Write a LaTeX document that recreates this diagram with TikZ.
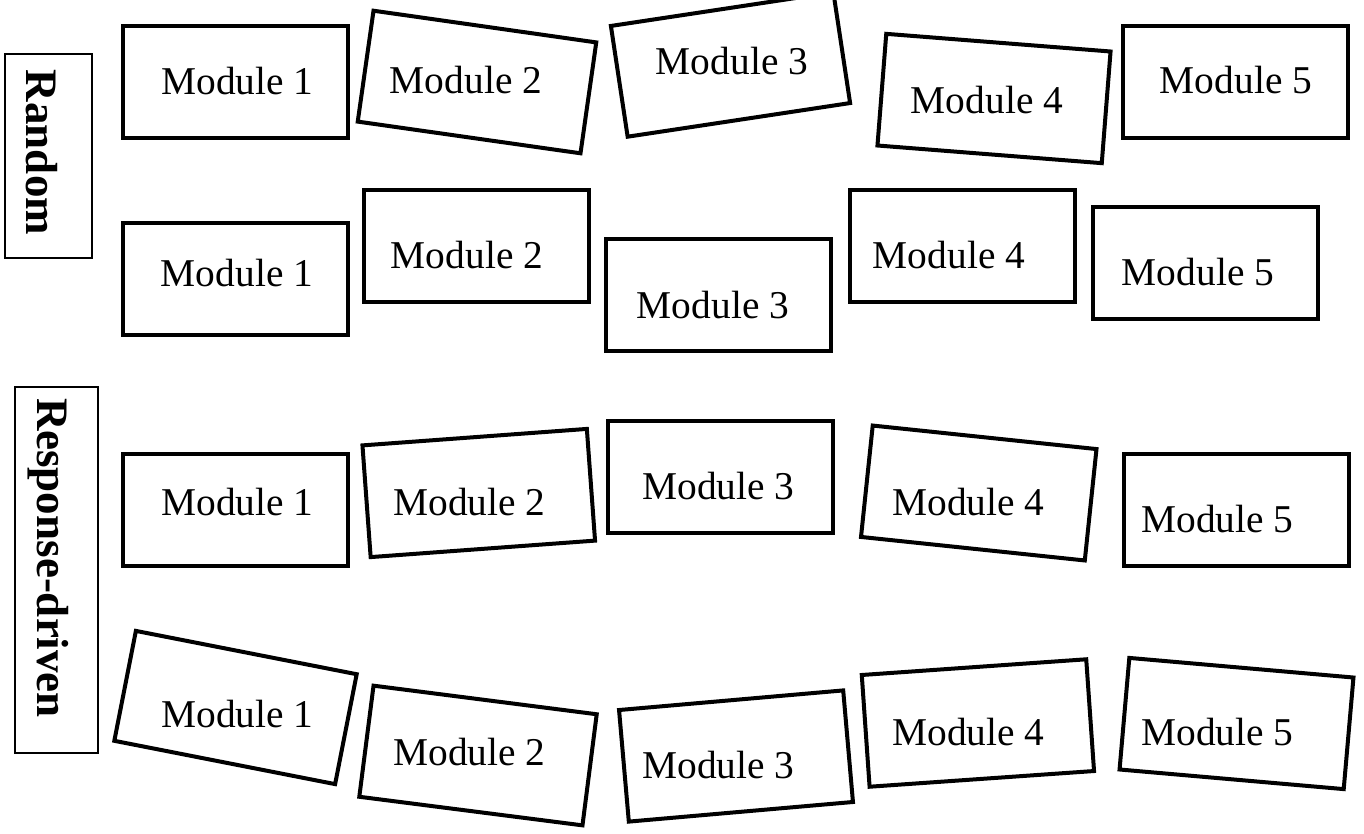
\documentclass[tikz,border=0pt]{standalone}
\usepackage{fontspec}
\setmainfont{Liberation Serif}
\begin{document}
\begin{tikzpicture}[x=1pt,y=-1pt,
  modbox/.style={draw=black, line width=4pt, minimum width=225pt, minimum height=112pt, inner sep=0pt, rotate=#1},
  modbox/.default=0,
  modtext/.style={anchor=base, inner sep=0pt, font=\fontsize{39.4}{40}\selectfont},
  sidebox/.style={draw=black, line width=1.3pt, inner sep=0pt},
  sidetext/.style={rotate=-90, anchor=base, inner sep=0pt, font=\fontsize{45}{46}\selectfont\bfseries}]
\useasboundingbox (0,0) rectangle (1364,833);
% side labels
\node[sidebox, minimum width=87pt, minimum height=204pt] (rbox) at (48.5,156) {};
\node[sidetext] (rlab) at (26,152.5) {Random};
\node[sidebox, minimum width=83pt, minimum height=366pt] (dbox) at (56.5,570) {};
\node[sidetext] (dlab) at (37,558) {Response-driven};
% row 1
\node[modbox] (a1) at (235.5,81.5) {};
\node[modbox=-8.1] (a2) at (477,82) {};
\node[modbox=8.6] (a3) at (730.5,64.5) {};
\node[modbox=-4.5] (a4) at (994,98.5) {};
\node[modbox] (a5) at (1235.5,81.5) {};
\node[modtext] (a1t) at (237.5,94) {Module 1};
\node[modtext] (a2t) at (466,93) {Module 2};
\node[modtext] (a3t) at (732,74) {Module 3};
\node[modtext] (a4t) at (987,113) {Module 4};
\node[modtext] (a5t) at (1236,93) {Module 5};
% row 2
\node[modbox] (b1) at (235.5,279) {};
\node[modbox] (b2) at (476,246) {};
\node[modbox] (b3) at (718,295) {};
\node[modbox] (b4) at (962.5,246) {};
\node[modbox] (b5) at (1205.5,263) {};
\node[modtext] (b1t) at (237,286) {Module 1};
\node[modtext] (b2t) at (467,268) {Module 2};
\node[modtext] (b3t) at (713,318) {Module 3};
\node[modtext] (b4t) at (949,268) {Module 4};
\node[modtext] (b5t) at (1198,285) {Module 5};
% row 3
\node[modbox] (c1) at (235.5,509.5) {};
\node[modbox=4.2] (c2) at (478.75,493) {};
\node[modbox] (c3) at (720.5,477) {};
\node[modbox=-6] (c4) at (978.75,493) {};
\node[modbox] (c5) at (1236,509.5) {};
\node[modtext] (c1t) at (237.5,515) {Module 1};
\node[modtext] (c2t) at (469.5,515) {Module 2};
\node[modtext] (c3t) at (718.5,499) {Module 3};
\node[modtext] (c4t) at (968.5,515) {Module 4};
\node[modtext] (c5t) at (1217.5,532) {Module 5};
% row 4
\node[modbox=-11.1] (d1) at (235.5,707.5) {};
\node[modbox=-7.3] (d2) at (478,755.5) {};
\node[modbox=5] (d3) at (736,756) {};
\node[modbox=4] (d4) at (977.9,723) {};
\node[modbox=-5] (d5) at (1236.5,723.5) {};
\node[modtext] (d1t) at (237.5,727) {Module 1};
\node[modtext] (d2t) at (469.5,765) {Module 2};
\node[modtext] (d3t) at (718.5,778) {Module 3};
\node[modtext] (d4t) at (968.5,745) {Module 4};
\node[modtext] (d5t) at (1217.5,745) {Module 5};
\end{tikzpicture}
\end{document}
